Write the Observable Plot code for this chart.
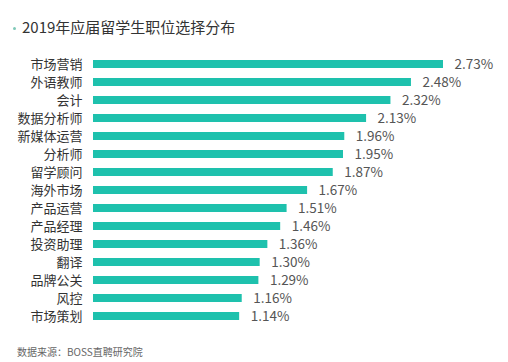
<!DOCTYPE html>
<html>
<head>
<meta charset="utf-8">
<script src="https://cdn.jsdelivr.net/npm/d3@7"></script>
<script src="https://cdn.jsdelivr.net/npm/@observablehq/plot@0.6"></script>
<style>
  body { margin: 0; background: #fff; width: 508px; height: 362px; position: relative; overflow: hidden;
         font-family: "Noto Sans CJK SC", "Noto Sans", sans-serif; }
  #title { position: absolute; left: 22px; top: 17px; font-size: 15px; color: #333; line-height: 20px; white-space: nowrap; }
  #dot { position: absolute; left: 13px; top: 27px; width: 3px; height: 3px; border-radius: 50%; background: #7fc9b8; }
  #chart { position: absolute; left: 0; top: 45px; }
  #caption { position: absolute; left: 17px; top: 345px; font-size: 10px; color: #666; line-height: 14px; white-space: nowrap; }
</style>
</head>
<body>
<div id="dot"></div>
<div id="title">2019年应届留学生职位选择分布</div>
<div id="chart"></div>
<div id="caption">数据来源：BOSS直聘研究院</div>
<script>
const jobs = ["市场营销","外语教师","会计","数据分析师","新媒体运营","分析师","留学顾问","海外市场","产品运营","产品经理","投资助理","翻译","品牌公关","风控","市场策划"];
const shares = [2.73,2.48,2.32,2.13,1.96,1.95,1.87,1.67,1.51,1.46,1.36,1.30,1.29,1.16,1.14];
const data = jobs.map((j, i) => ({job: j, value: shares[i]}));

const chart = Plot.plot({
  width: 508,
  height: 288,
  marginTop: 2,
  marginBottom: 0,
  marginLeft: 93,
  marginRight: 65,
  style: {fontFamily: '"Noto Sans CJK SC", "Noto Sans", sans-serif', background: "transparent"},
  x: {domain: [0, 2.73], axis: null},
  y: {domain: jobs, padding: 0.57, label: null},
  marks: [
    Plot.barX(data, {x: "value", y: "job", fill: "#1ec1ad"}),
    Plot.text(data, {x: "value", y: "job", text: d => d.value.toFixed(2) + "%", textAnchor: "start", dx: 11, fontSize: 13.5, fill: "#555"}),
    Plot.axisY({tickSize: 0, tickPadding: 11, fontSize: 13, color: "#333", label: null})
  ]
});
document.getElementById("chart").appendChild(chart);
</script>
</body>
</html>
